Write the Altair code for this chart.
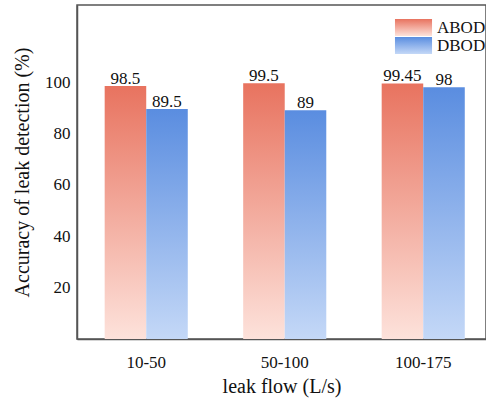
import altair as alt
import pandas as pd

categories = ["10-50", "50-100", "100-175"]
series = ["ABOD", "DBOD"]
abod = [98.5, 99.5, 99.45]
dbod = [89.5, 89, 98]

rows = []
for c, a, d in zip(categories, abod, dbod):
    rows.append({"flow": c, "series": "ABOD", "acc": a})
    rows.append({"flow": c, "series": "DBOD", "acc": d})
df = pd.DataFrame(rows)

FONT = "Liberation Serif"
RED_TOP, RED_BOT = "#E8735F", "#FDE2DB"
BLUE_TOP, BLUE_BOT = "#5A8DE0", "#C4D8F7"


def grad_expr(top, bot):
    return ("{gradient: 'linear', x1: 0, y1: 0, x2: 0, y2: 1, stops: [{offset: 0, color: '%s'}, "
            "{offset: 1, color: '%s'}]}" % (top, bot))


x = alt.X("flow:N", sort=categories,
          scale=alt.Scale(paddingInner=0.4, paddingOuter=0.1765, align=0.566),
          axis=alt.Axis(title="leak flow (L/s)", labelAngle=0, ticks=False, tickSize=0,
                        labelPadding=28, labelBaseline="alphabetic",
                        titleY=53, titleBaseline="alphabetic",
                        domainColor="#555", domainWidth=1.5))
xo = alt.XOffset("series:N", sort=series, scale=alt.Scale(domain=series))
y = alt.Y("acc:Q", scale=alt.Scale(domain=[0, 130], nice=False),
          axis=alt.Axis(values=[20, 40, 60, 80, 100], title="Accuracy of leak detection (%)",
                        grid=False, ticks=False, tickSize=0, labelPadding=7,
                        domainColor="#555", domainWidth=1.5, titleX=-45, titleY=167))

bars = alt.Chart(df).mark_bar().encode(
    x=x, xOffset=xo, y=y,
    color=alt.Color("series:N", sort=series,
                    scale=alt.Scale(domain=series,
                                    range=[alt.ExprRef(grad_expr(RED_TOP, RED_BOT)),
                                           alt.ExprRef(grad_expr(BLUE_TOP, BLUE_BOT))]),
                    legend=alt.Legend(
                        title=None, orient="none", legendX=328, legendY=14,
                        labelFont=FONT, labelFontSize=17, labelColor="#111", labelOffset=15,
                        symbolType="M-2.18,-1H2.18V1H-2.18Z", symbolSize=289, symbolStrokeWidth=0,
                        symbolOpacity=1, rowPadding=0, padding=0)),
)

labels = alt.Chart(df).mark_text(dy=-2, baseline="alphabetic", font=FONT, fontSize=17, color="#111").encode(
    x=x, xOffset=xo, y=y, text=alt.Text("acc:Q", format="~g"))

chart = alt.layer(bars, labels).properties(
    width=409, height=334,
    autosize=alt.AutoSizeParams(type="none"),
    padding={"left": 77, "top": 5, "right": 0, "bottom": 61},
).configure_view(stroke="#555", strokeWidth=1.5).configure_axis(
    labelFont=FONT, titleFont=FONT, labelFontSize=17, titleFontSize=20,
    labelColor="#111", titleColor="#111", titleFontWeight="normal")

chart.save("out.html", embed_options={"renderer": "svg", "actions": False})
